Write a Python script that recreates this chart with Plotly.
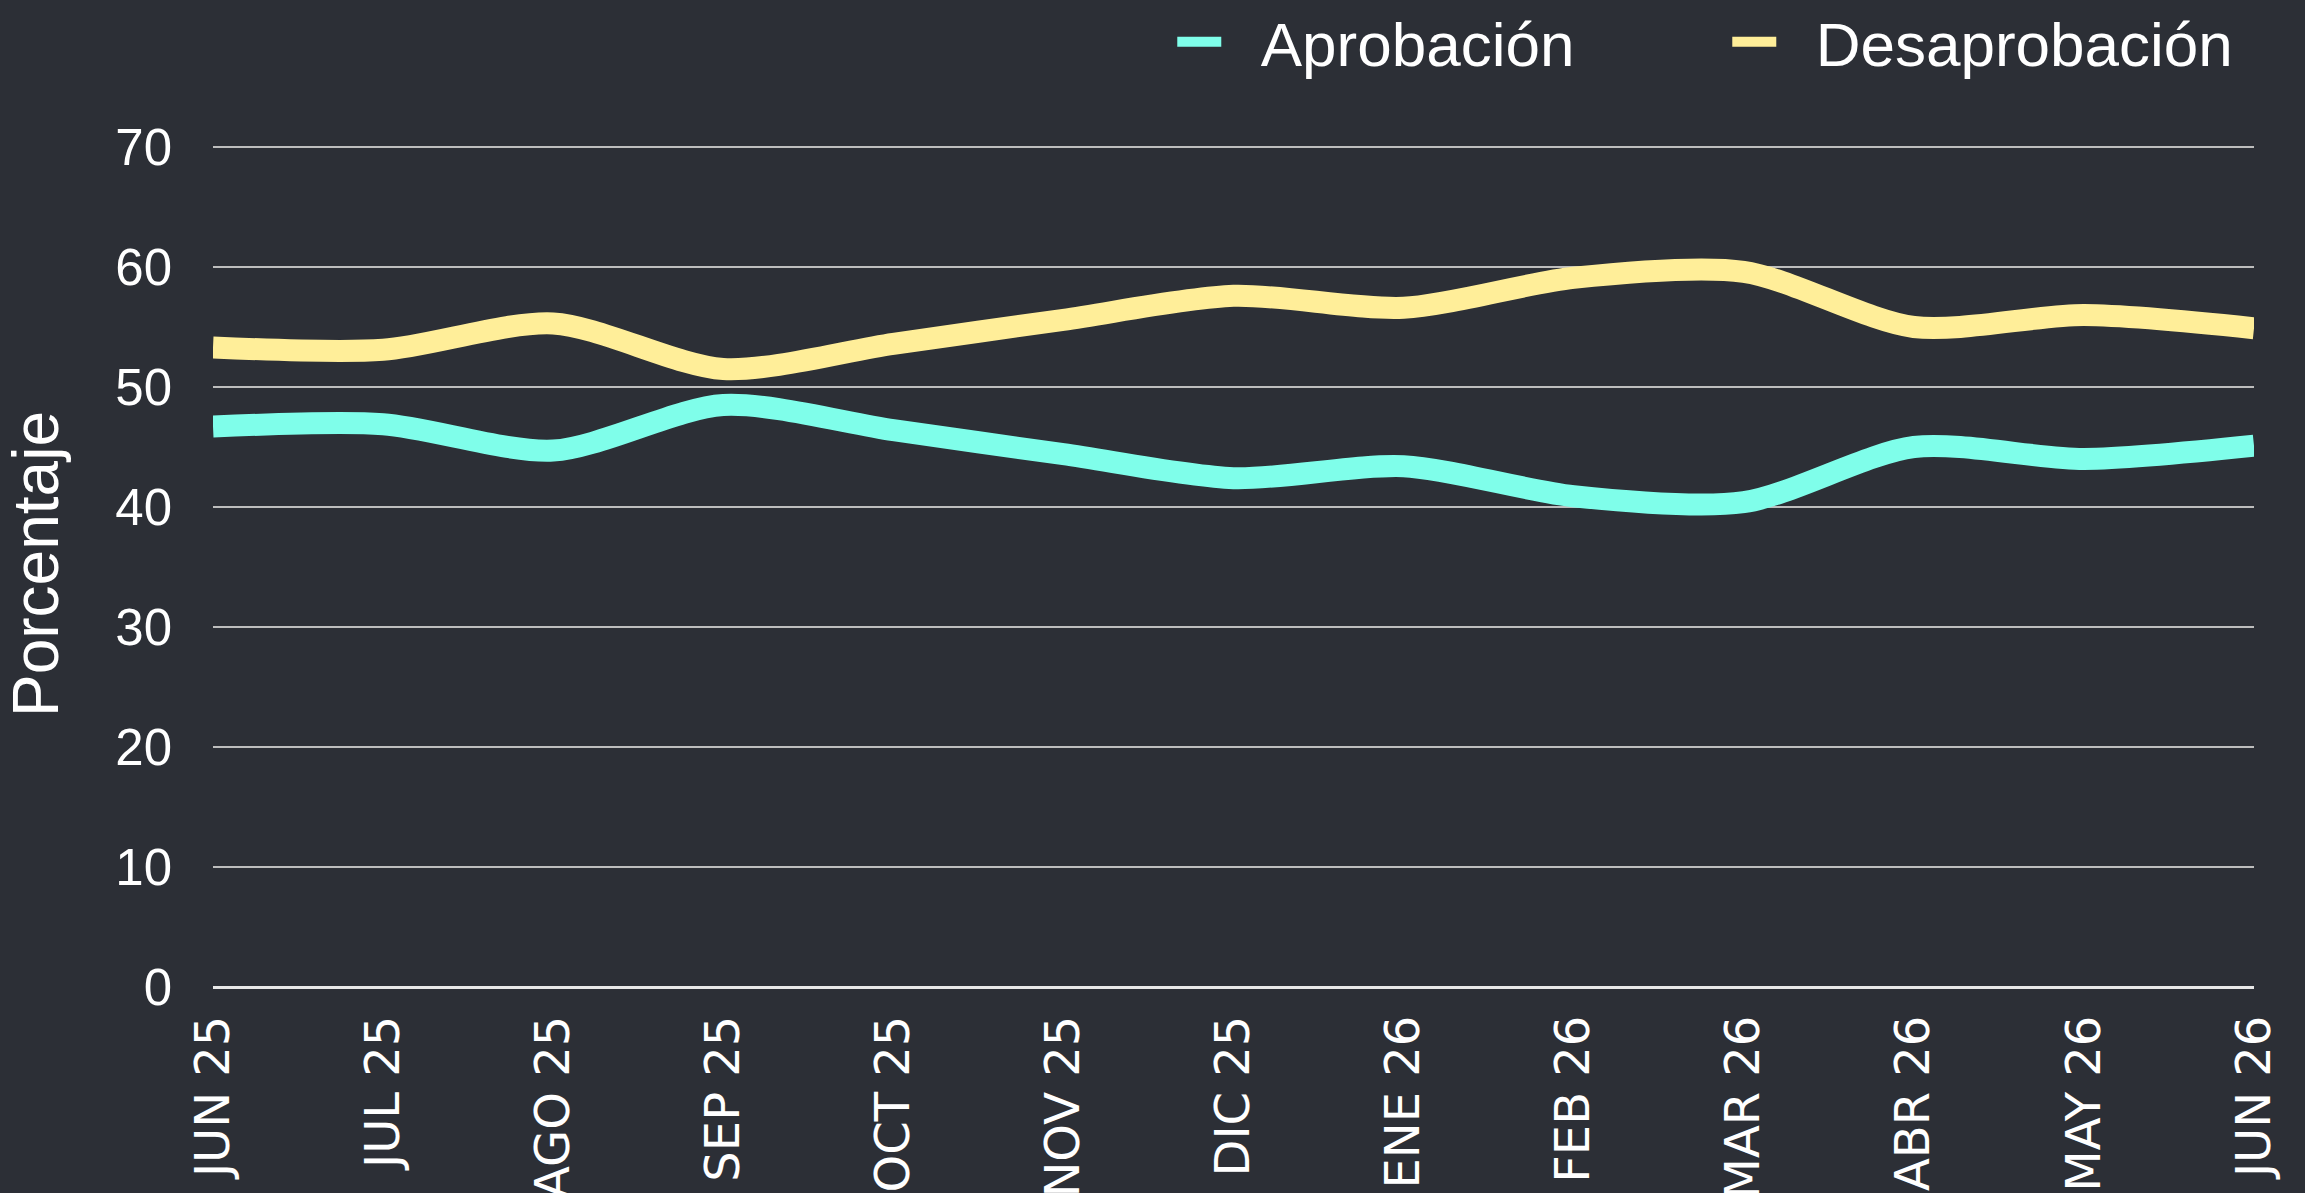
import plotly.graph_objects as go

months = ["JUN 25", "JUL 25", "AGO 25", "SEP 25", "OCT 25", "NOV 25", "DIC 25",
          "ENE 26", "FEB 26", "MAR 26", "ABR 26", "MAY 26", "JUN 26"]
aprobacion = [46.7, 46.9, 44.7, 48.5, 46.4, 44.4, 42.4, 43.4, 40.9, 40.4, 45.0, 44.0, 45.1]
desaprobacion = [53.3, 53.1, 55.3, 51.5, 53.6, 55.6, 57.6, 56.6, 59.1, 59.6, 55.0, 56.0, 54.9]
y_ticks = [0, 10, 20, 30, 40, 50, 60, 70]
series_names = ["Aprobación", "Desaprobación"]

BG = "#2c2f36"
CYAN = "#7ffeea"
YELLOW = "#ffee99"
FONT = "Liberation Sans"
GAP = "\u00a0\u00a0"

fig = go.Figure()
fig.add_trace(go.Scatter(x=months, y=aprobacion, name=GAP + series_names[0], mode="lines",
                         line=dict(color=CYAN, width=22, shape="spline", smoothing=0.8)))
fig.add_trace(go.Scatter(x=months, y=desaprobacion, name=GAP + series_names[1], mode="lines",
                         line=dict(color=YELLOW, width=22, shape="spline", smoothing=0.8)))

fig.update_layout(
    width=2305, height=1193,
    paper_bgcolor=BG, plot_bgcolor=BG,
    margin=dict(l=213, r=51, t=141, b=206, autoexpand=False),
    font=dict(family=FONT, color="white", size=50),
    showlegend=True,
    legend=dict(orientation="h", x=0.47, xanchor="left", y=1.117, yanchor="middle",
                font=dict(family=FONT, size=62, color="white"),
                bgcolor="rgba(0,0,0,0)", entrywidth=496, itemwidth=44, traceorder="normal"),
    xaxis=dict(type="category", range=[0, len(months) - 1], showgrid=False,
               tickangle=-90, tickfont=dict(family="DejaVu Sans", size=48, color="white"),
               ticks="", ticklabelstandoff=18, showline=False, zeroline=False),
    yaxis=dict(range=[0, 70.5], tickvals=y_ticks, showgrid=True, gridcolor="#bdbdbd", gridwidth=2,
               zeroline=True, zerolinecolor="#e8e8e8", zerolinewidth=3,
               tickfont=dict(family=FONT, size=51, color="white"), ticklabelstandoff=40,
               title=dict(text="Porcentaje", font=dict(family=FONT, size=64, color="white"),
                          standoff=41)),
)

fig.write_html("out.html", config={"displayModeBar": False},
               post_script="document.body.style.margin='0px';document.body.style.overflow='hidden';")
